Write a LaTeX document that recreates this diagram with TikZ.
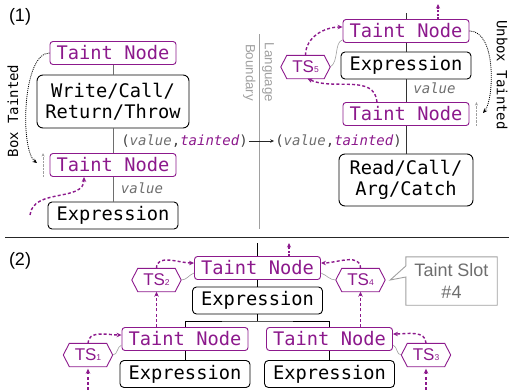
\documentclass[tikz,border=0pt]{standalone}
\usepackage{fontspec}
\setmainfont{Liberation Sans}
\setmonofont{DejaVu Sans Mono}
\usetikzlibrary{arrows.meta}
\definecolor{tp}{RGB}{140,25,140}
\definecolor{lgray}{RGB}{110,110,110}
\definecolor{bgray}{RGB}{160,160,160}
\begin{document}
\begin{tikzpicture}[x=1pt,y=1pt,
  tn/.style={draw=tp, line width=0.9pt, rounded corners=3pt, text=tp,
    font=\ttfamily\fontsize{18.7}{21.5}\selectfont, minimum width=126pt,
    minimum height=23pt, inner sep=0pt},
  ex/.style={draw=black, line width=0.9pt, rounded corners=4pt,
    font=\ttfamily\fontsize{18.7}{21.5}\selectfont, minimum width=130pt,
    minimum height=27pt, inner sep=0pt, align=center},
  hx/.style={minimum width=49pt, minimum height=23pt, inner sep=0pt, text=tp,
    font=\fontsize{17}{18}\selectfont},
  lbl/.style={font=\ttfamily\fontsize{14}{16}\selectfont, inner sep=1pt},
  pa/.style={draw=tp, line width=1.4pt, dash pattern=on 3pt off 2.2pt,
    -{Stealth[length=5pt,width=4.5pt]}},
  pd/.style={draw=tp, line width=1.3pt, dash pattern=on 2pt off 1.3pt,
    -{Stealth[length=4.5pt,width=4pt]}},
  bd/.style={draw=black, line width=0.8pt, dash pattern=on 1pt off 1pt,
    -{Stealth[length=4.5pt,width=4pt]}},
  gu/.style={draw=bgray, line width=0.9pt, dash pattern=on 0.8pt off 0.6pt,
    -{Stealth[length=3.5pt,width=3pt]}},
  lk/.style={draw=bgray, line width=0.6pt}
]
\useasboundingbox (0,0) rectangle (509,-389);

% ---------- section (1) ----------
\node[font=\fontsize{18}{20}\selectfont] (p1) at (20,-17) {(1)};

\node[tn] (tl1) at (113,-53) {Taint Node};
\node[ex, minimum width=152pt, minimum height=53pt, rounded corners=6pt] (wr) at (113,-101.5) {Write/Call/\\Return/Throw};
\node[tn] (tl2) at (113,-165) {Taint Node};
\node[ex] (el) at (113,-215.5) {Expression};

\draw[lgray, line width=1pt] (tl1.south) -- (wr.north);
\draw[lgray, line width=1pt] (wr.south) -- (tl2.north);
\draw[lgray, line width=1pt] (tl2.south) -- (el.north);

\node[lbl, text=lgray, font=\ttfamily\itshape\fontsize{14}{16}\selectfont] (v1) at (142,-188) {value};

\node[tn] (tr1) at (406,-31) {Taint Node};
\node[ex] (er) at (406,-65.5) {Expression};
\node[tn] (tr2) at (406,-114) {Taint Node};
\node[ex, minimum width=134pt, minimum height=52pt, rounded corners=6pt] (rd) at (406,-180) {Read/Call/\\Arg/Catch};
\coordinate (rtop) at (406,-13);
\draw[black!80, line width=1pt] (rtop) -- (tr1.north);
\draw[black!80, line width=1pt] (tr1.south) -- (er.north);
\draw[black!80, line width=1pt] (er.south) -- (tr2.north);
\draw[black!80, line width=1pt] (tr2.south) -- (rd.north);

\node[lbl, text=lgray, font=\ttfamily\itshape\fontsize{14}{16}\selectfont] (v2) at (434.5,-88) {value};

\node[lbl, text=black!75] (vt1) at (184.5,-141) {(\textcolor{lgray}{\itshape value},\textcolor{tp}{\itshape tainted})};
\node[lbl, text=black!75] (vt2) at (338.5,-141) {(\textcolor{lgray}{\itshape value},\textcolor{tp}{\itshape tainted})};

% language boundary
\coordinate (lbt) at (259,-34);
\coordinate (lbb) at (259,-229);
\draw[bgray, line width=1pt] (lbt) -- (lbb);
\node[rotate=-90, align=center, text=bgray, font=\fontsize{13.3}{19}\selectfont, inner sep=0pt] (lb) at (258.5,-72.5) {Language\\Boundary};

\draw[black!85, line width=0.8pt, -{Stealth[length=4pt,width=3.5pt]}] (vt1.east) -- (vt2.west);

% TS5
\node[hx] (ts5) at (305.5,-67) {TS{\fontsize{8.5}{9}\selectfont 5}};

\draw[lk] (ts5.east) .. controls (339,-62) and (334,-42) .. ([yshift=3pt]tr1.south west);
\draw[pa] (ts5.north) to[out=90,in=180] ([yshift=4pt]tr1.west);
\draw[pa] ([xshift=-29pt]tr2.north) to[out=95,in=-25] ([xshift=2pt]ts5.south);
\coordinate (up1) at (438,-4);
\draw[pd] ([xshift=32pt]tr1.north) -- (up1);

% box / unbox
\node[lbl, rotate=90] (bx) at (13,-111) {Box Tainted};
\node[lbl, rotate=-90] (ubx) at (502,-75) {Unbox Tainted};
\coordinate (bt) at (37,-163);
\draw[bd] (tl1.west) .. controls (22,-53) and (20,-150) .. (bt);
\coordinate (ut) at (483,-113);
\draw[bd] (tr1.east) .. controls (497,-31) and (494,-100) .. (ut);
\draw[gu] ([xshift=-6.5pt]tl2.south west) -- ([xshift=-6.5pt]tl2.north west);
\draw[gu] ([xshift=7pt]tr2.south east) -- ([xshift=7pt]tr2.north east);

\coordinate (s1) at (30,-215);
\draw[pa] (s1) .. controls (33,-188) and (84,-202) .. ([xshift=-29pt]tl2.south);

% separator
\coordinate (sepl) at (5,-237);
\coordinate (sepr) at (509,-237);
\draw[black!85, line width=1pt] (sepl) -- (sepr);

% ---------- section (2) ----------
\node[font=\fontsize{18}{20}\selectfont] (p2) at (20,-261) {(2)};

\node[tn] (t0) at (257.5,-268) {Taint Node};
\node[ex] (e0) at (257.5,-300.5) {Expression};
\node[tn] (ta) at (185,-339) {Taint Node};
\node[tn] (tb) at (329.5,-339) {Taint Node};
\node[ex] (ea) at (185,-374) {Expression};
\node[ex] (eb) at (329.5,-374) {Expression};

\coordinate (top0) at (257.5,-243);
\coordinate (br) at (257.5,-321);
\draw[black, line width=0.9pt] (top0) -- (t0.north);
\draw[black, line width=0.9pt] (t0.south) -- (e0.north);
\draw[black, line width=0.9pt] (e0.south) -- (br);
\draw[black, line width=0.9pt] (ta.north) |- (br) -| (tb.north);
\draw[black, line width=0.9pt] (ta.south) -- (ea.north);
\draw[black, line width=0.9pt] (tb.south) -- (eb.north);

\node[hx] (ts2) at (156.5,-280) {TS{\fontsize{8.5}{9}\selectfont 2}};
\node[hx] (ts4) at (360.5,-280) {TS{\fontsize{8.5}{9}\selectfont 4}};
\node[hx] (ts1) at (88,-355) {TS{\fontsize{8.5}{9}\selectfont 1}};
\node[hx] (ts3) at (426,-355) {TS{\fontsize{8.5}{9}\selectfont 3}};

\foreach \n in {ts1,ts2,ts3,ts4,ts5}
  \draw[tp, line width=0.9pt] (\n.west) -- ([xshift=6pt]\n.north west) -- ([xshift=-6pt]\n.north east) -- (\n.east) -- ([xshift=-6pt]\n.south east) -- ([xshift=6pt]\n.south west) -- cycle;

\draw[lk] (ts2.east) to[out=0,in=200] ([yshift=-5pt]t0.west);
\draw[lk] (ts4.west) to[out=180,in=-20] ([yshift=-5pt]t0.east);
\draw[lk] (ts1.east) to[out=0,in=200] ([yshift=-6pt]ta.west);
\draw[lk] (ts3.west) to[out=180,in=-20] ([yshift=-6pt]tb.east);

\draw[pa] (ts1.north) to[out=90,in=180] ([yshift=4pt]ta.west);
\draw[pa] (ts2.north) to[out=90,in=180] ([yshift=5pt]t0.west);
\draw[pa] (ts4.north) to[out=90,in=0] ([yshift=5pt]t0.east);
\draw[pa] (ts3.north) to[out=90,in=0] ([yshift=5pt]tb.east);
\draw[pa] (ts2.south |- ta.north) -- (ts2.south);
\draw[pa] (ts4.south |- tb.north) -- (ts4.south);
\coordinate (b1) at (88,-390);
\coordinate (b3) at (426,-390);
\draw[pa, shorten >=2pt] (b1) -- (ts1.south);
\draw[pa, shorten >=2pt] (b3) -- (ts3.south);
\coordinate (up0) at (289,-243);
\draw[pd] ([xshift=31.5pt]t0.north) -- (up0);

% callout
\node[minimum width=91pt, minimum height=48pt, inner sep=0pt, align=center, text=lgray, font=\fontsize{18}{21.5}\selectfont] (cal) at (451.5,-281) {Taint Slot\\\#4};
\coordinate (ptr) at ([xshift=5pt]ts4.east);
\draw[bgray, line width=0.9pt] (cal.north west) -- (cal.north east) -- (cal.south east) -- (cal.south west) -- ([yshift=4pt]cal.west) -- (ptr) -- ([yshift=15pt]cal.west) -- cycle;
\end{tikzpicture}
\end{document}
